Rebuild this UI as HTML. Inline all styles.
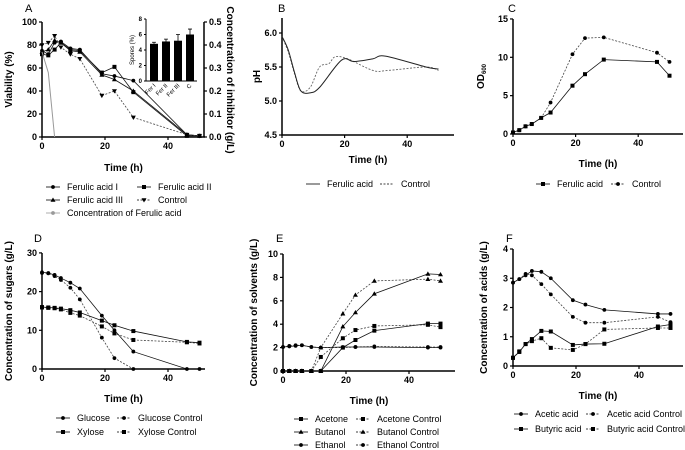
<!DOCTYPE html>
<html><head><meta charset="utf-8"><style>
body{margin:0;background:#fff;}
svg{display:block;font-family:"Liberation Sans",sans-serif;}
.tk{font-size:9px;font-weight:bold;}
.at{font-size:10px;font-weight:bold;}
.lg{font-size:9px;}
.pl{font-size:11px;}
</style></head><body>
<svg id="fig" width="685" height="450" viewBox="0 0 685 450"></svg>
<script>
const times=[0,2,4,6,9,12,19,23,29,46,50];
// A
const faI=[75,72,82,83,77,76,55,53,49,2,1];
const faII=[72,71,76,82,76,75,56,61,39,1,1];
const faIII=[74,76,84,82,75,74,54,50,40,2,1];
const ctrlA=[80,82,88,78,72,68,36,40,17,2,1];
const inhibTimes=[0,2,4];
const inhibConc=[0.37,0.28,0];
const sporeCats=["Fer I","Fer II","Fer III","C"];
const sporeVals=[4.8,5.1,5.2,6.0];
const sporeErr=[0.2,0.3,0.8,0.7];
// B
const phFaT=[0,2,4,6,9,12,19,23,29,33,46,50];
const phFa=[5.95,5.75,5.42,5.15,5.12,5.2,5.6,5.58,5.62,5.66,5.5,5.47];
const phCtT=[0,2,4,6,9,12,15,17,21,29,34,46,50];
const phCt=[5.95,5.72,5.4,5.15,5.2,5.5,5.55,5.65,5.62,5.45,5.45,5.5,5.45];
// C
const odFa=[0.2,0.5,1,1.3,2.1,2.8,6.3,7.8,9.7,9.4,7.6];
const odCt=[0.2,0.5,1,1.3,2.1,4.1,10.4,12.5,12.6,10.6,9.4];
// D
const glucose=[25,24.8,24.3,23.5,22.3,20.8,13.8,10,4.5,0,0];
const xylose=[16,15.9,15.8,15.6,15.2,14.6,12.5,11.3,9.8,7,6.8];
const glucoseCtrl=[24.8,24.7,24,23,21,18,8.1,2.8,0];
const xyloseCtrl=[15.9,15.8,15.7,15.4,14.5,13.8,11,9.2,7.5,6.9,6.6];
// E
const acetone=[0,0,0,0,0,0,2.0,2.65,3.45,4.05,4.05];
const acetoneCtrl=[0,0,0,0,0,1.2,2.8,3.5,3.85,3.95,3.75];
const butanol=[0,0,0,0,0,0,3.8,5.0,6.6,8.3,8.25];
const butanolCtrl=[0,0,0,0,0,2.0,4.9,6.5,7.7,7.85,7.7];
const ethanol=[2.05,2.1,2.15,2.2,2.05,2.0,2.05,2.05,2.05,2.0,2.0];
const ethanolCtrl=[2.05,2.15,2.2,2.2,2.05,2.0,2.0,2.05,2.1,2.05,2.05];
// F
const acetic=[2.85,2.97,3.1,3.25,3.22,3.0,2.25,2.1,1.92,1.78,1.78];
const aceticCtrl=[2.85,2.97,3.15,3.1,2.8,2.45,1.68,1.48,1.48,1.68,1.5];
const butyric=[0.28,0.48,0.75,0.92,1.2,1.18,0.72,0.75,0.76,1.35,1.42];
const butyricCtrl=[0.28,0.5,0.75,0.85,0.95,0.62,0.55,0.75,1.25,1.3,1.3];

const NS="http://www.w3.org/2000/svg";
const svg=document.getElementById('fig');
function mk(tag,at,par){const e=document.createElementNS(NS,tag);for(const k in at)e.setAttribute(k,at[k]);(par||svg).appendChild(e);return e;}
function txt(x,y,s,cls,anchor,par,rot){const e=mk('text',{x:x,y:y,class:cls,'text-anchor':anchor||'middle'},par);if(rot)e.setAttribute('transform','rotate('+rot+' '+x+' '+y+')');e.textContent=s;return e;}
function marker(g,shape,x,y,fill){
  let e;
  if(shape==='c')e=mk('circle',{cx:x,cy:y,r:1.9,fill:fill||'#000'},g);
  else if(shape==='s')e=mk('rect',{x:x-2,y:y-2,width:4,height:4,fill:fill||'#000'},g);
  else if(shape==='t')e=mk('path',{d:`M${x},${y-2.5}L${x+2.5},${y+1.8}L${x-2.5},${y+1.8}Z`,fill:fill||'#000'},g);
  else e=mk('path',{d:`M${x},${y+2.5}L${x+2.5},${y-1.8}L${x-2.5},${y-1.8}Z`,fill:fill||'#000'},g);
  
  
}
function panel(p){
  const g=mk('g',{});
  
  
  const xs=t=>p.x0+t*p.xk, ys=v=>p.y0-(v-p.ymin)*p.yk;
  p.xs=xs;p.ys=ys;
  const lt=txt(p.lx,p.ly,p.id,'pl','start',g);
  
  
  const ax=mk('path',{d:`M${p.x0},${p.y0-p.ytop}V${p.y0}H${p.xend}`,stroke:'#000','stroke-width':1.5,fill:'none'},g);
  
  
  p.yticks.forEach(v=>{mk('line',{x1:p.x0-3,x2:p.x0,y1:ys(v),y2:ys(v),stroke:'#000','stroke-width':1.2},g);
    const t=txt(p.x0-5,ys(v)+3,p.yfmt?p.yfmt(v):v,'tk','end',g);
    
    });
  [0,20,40].forEach(v=>{mk('line',{x1:xs(v),x2:xs(v),y1:p.y0,y2:p.y0+3,stroke:'#000','stroke-width':1.2},g);
    const t=txt(xs(v),p.y0+12,v,'tk','middle',g);
    
    });
  const xt=txt((p.x0+p.xend)/2,p.tY,'Time (h)','at','middle',g);
  
  
  const yt=txt(p.yx,p.y0-p.ytop/2,p.ytitle,'at','middle',g,-90);
  
  
  if(p.sub){const ts=mk('tspan',{'font-size':'6px',dy:'2'},yt);ts.textContent=p.sub;}
  p.g=g;return p;
}
function series(p,name,tt,vals,shape,dashed,color){
  const g=mk('g',{},p.g);
  
  
  const pts=vals.map((v,i)=>[p.xs(tt[i]),p.ys(v)]);
  mk('polyline',{points:pts.map(q=>q.join(',')).join(' '),fill:'none',stroke:color||(dashed?'#444':'#111'),'stroke-width':0.8,'stroke-dasharray':dashed?'2,1.5':'none'},g);
  if(shape)pts.forEach(q=>marker(g,shape,q[0],q[1],color));
}
function smooth(p,name,tt,vals,dashed){
  const pts=vals.map((v,i)=>[p.xs(tt[i]),p.ys(v)]);
  let d=`M${pts[0]}`;
  for(let i=0;i<pts.length-1;i++){const p0=pts[i-1]||pts[i],p1=pts[i],p2=pts[i+1],p3=pts[i+2]||p2;
    d+=`C${p1[0]+(p2[0]-p0[0])/6},${p1[1]+(p2[1]-p0[1])/6} ${p2[0]-(p3[0]-p1[0])/6},${p2[1]-(p3[1]-p1[1])/6} ${p2[0]},${p2[1]}`;}
  const e=mk('path',{d:d,fill:'none',stroke:dashed?'#666':'#222','stroke-width':dashed?0.9:1,'stroke-dasharray':dashed?'2,1.5':'none'},p.g);
  
  
}
function legend(x,y,label,shape,dashed,color){
  const g=mk('g',{});
  
  
  mk('line',{x1:x,x2:x+14,y1:y-3,y2:y-3,stroke:color||'#000','stroke-width':0.8,'stroke-dasharray':dashed?'2,1.5':'none'},g);
  if(shape)marker(g,shape,x+7,y-3,color);
  txt(x+21,y,label,'lg','start',g);
}

// Panel A
const A=panel({id:'A',lx:25,ly:12,x0:42,xk:3.15,xend:205,y0:137,ymin:0,yk:1.15,ytop:115,yticks:[0,20,40,60,80,100],tY:171,yx:12,ytitle:'Viability (%)'});
series(A,'ferulic-acid-iii',times,faIII,'t',false);
series(A,'ferulic-acid-ii',times,faII,'s',false);
series(A,'ferulic-acid-i',times,faI,'c',false);
series(A,'control',times,ctrlA,'v',true);
{const ra=mk('line',{x1:204,x2:204,y1:22,y2:137,stroke:'#000','stroke-width':1.5});
 
 [0,0.1,0.2,0.3,0.4,0.5].forEach(v=>{const y=137-v*230;mk('line',{x1:204,x2:207,y1:y,y2:y,stroke:'#000','stroke-width':1.2});
  const t=txt(209,y+3,v.toFixed(1),'tk','start');});
 const rt=txt(227,80,'Concentration of inhibitor (g/L)','at','middle',null,90);
 
 const pts=inhibConc.map((v,i)=>(42+inhibTimes[i]*3.15)+','+(137-v*230)).join(' ');
 const il=mk('polyline',{points:pts,fill:'none',stroke:'#999','stroke-width':1});
 
 const ig=mk('g',{});
 const iy=v=>81-v*7.75;
 mk('path',{d:'M146,19V81H197',stroke:'#000','stroke-width':1,fill:'none'},ig);
 [0,2,4,6,8].forEach(v=>{mk('line',{x1:144,x2:146,y1:iy(v),y2:iy(v),stroke:'#000'},ig);txt(142,iy(v)+2,v,'lg','end',ig).setAttribute('style','font-size:6px;font-weight:bold');});
 txt(134,50,'Spores (%)','lg','middle',ig,-90).setAttribute('style','font-size:6px');
 sporeVals.forEach((v,i)=>{const cx=154+i*12;const b=mk('rect',{x:cx-4,y:iy(v),width:8,height:81-iy(v),fill:'#000'},ig);
  
  mk('path',{d:`M${cx},${iy(v)}V${iy(v+sporeErr[i])}M${cx-2},${iy(v+sporeErr[i])}H${cx+2}`,stroke:'#000','stroke-width':0.8},ig);
  txt(cx+2,86,sporeCats[i],'lg','end',ig,-45).setAttribute('style','font-size:6px');});
}
legend(46,190,'Ferulic acid I','c',false);legend(137,190,'Ferulic acid II','s',false);
legend(46,203,'Ferulic acid III','t',false);legend(137,203,'Control','v',true);
legend(46,216,'Concentration of Ferulic acid','c',false,'#999');

// Panel B
const B=panel({id:'B',lx:278,ly:12,x0:282,xk:3.13,xend:454,y0:135,ymin:4.5,yk:68,ytop:117,yticks:[4.5,5.0,5.5,6.0],yfmt:v=>v.toFixed(1),tY:163,yx:260,ytitle:'pH'});
smooth(B,'control',phCtT,phCt,true);
smooth(B,'ferulic-acid',phFaT,phFa,false);
legend(306,187,'Ferulic acid',null,false);legend(380,187,'Control',null,true);

// Panel C
const C=panel({id:'C',lx:508,ly:12,x0:513,xk:3.13,xend:683,y0:134,ymin:0,yk:7.67,ytop:115,yticks:[0,5,10,15],tY:167,yx:484,ytitle:'OD',sub:'600'});
series(C,'control',times,odCt,'c',true);
series(C,'ferulic-acid',times,odFa,'s',false);
legend(536,187,'Ferulic acid','s',false);legend(611,187,'Control','c',true);

// Panel D
const D=panel({id:'D',lx:34,ly:242,x0:42,xk:3.15,xend:205,y0:369,ymin:0,yk:3.87,ytop:116,yticks:[0,10,20,30],tY:402,yx:12,ytitle:'Concentration of sugars (g/L)'});
series(D,'glucose-control',times,glucoseCtrl,'c',true);
series(D,'xylose-control',times,xyloseCtrl,'s',true);
series(D,'glucose',times,glucose,'c',false);
series(D,'xylose',times,xylose,'s',false);
legend(56,421,'Glucose','c',false);legend(117,421,'Glucose Control','c',true);
legend(56,435,'Xylose','s',false);legend(117,435,'Xylose Control','s',true);

// Panel E
const E=panel({id:'E',lx:276,ly:242,x0:283,xk:3.15,xend:455,y0:371,ymin:0,yk:11.7,ytop:117,yticks:[0,2,4,6,8,10],tY:404,yx:257,ytitle:'Concentration of solvents (g/L)'});
series(E,'acetone-control',times,acetoneCtrl,'s',true);
series(E,'butanol-control',times,butanolCtrl,'t',true);
series(E,'ethanol-control',times,ethanolCtrl,'c',true);
series(E,'acetone',times,acetone,'s',false);
series(E,'butanol',times,butanol,'t',false);
series(E,'ethanol',times,ethanol,'c',false);
legend(294,422,'Acetone','s',false);legend(356,422,'Acetone Control','s',true);
legend(294,435,'Butanol','t',false);legend(356,435,'Butanol Control','t',true);
legend(294,448,'Ethanol','c',false);legend(356,448,'Ethanol Control','c',true);

// Panel F
const F=panel({id:'F',lx:506,ly:242,x0:513,xk:3.15,xend:683,y0:366,ymin:0,yk:29.25,ytop:117,yticks:[0,1,2,3,4],tY:399,yx:487,ytitle:'Concentration of acids (g/L)'});
series(F,'acetic-control',times,aceticCtrl,'c',true);
series(F,'butyric-control',times,butyricCtrl,'s',true);
series(F,'acetic',times,acetic,'c',false);
series(F,'butyric',times,butyric,'s',false);
legend(514,417,'Acetic acid','c',false);legend(586,417,'Acetic acid Control','c',true);
legend(514,432,'Butyric acid','s',false);legend(586,432,'Butyric acid Control','s',true);
</script>
</body></html>
